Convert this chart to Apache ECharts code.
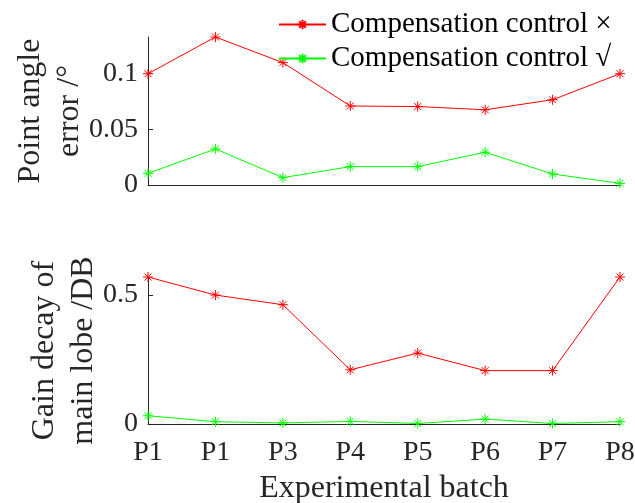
<!DOCTYPE html>
<html>
<head>
    <meta charset="utf-8">
    <title>Compensation control</title>
    <script src="https://cdn.jsdelivr.net/npm/echarts@6/dist/echarts.min.js"></script>
	<style>
		html, body{ margin:0; padding:0; background:#fff; }
		#main{
			height:503px;
			width:635px;
		}
	</style>
</head>
<body>
    <div id="main"></div>
    <script type="text/javascript">
        // data
        var batches = ['P1', 'P1', 'P3', 'P4', 'P5', 'P6', 'P7', 'P8'];
        var angleOff = [0.100, 0.133, 0.110, 0.071, 0.0705, 0.0676, 0.0766, 0.100];
        var angleOn = [0.0105, 0.0324, 0.0066, 0.0165, 0.0165, 0.0295, 0.0099, 0.0015];
        var gainOff = [0.570, 0.500, 0.4625, 0.210, 0.275, 0.207, 0.207, 0.570];
        var gainOn = [0.032, 0.009, 0.004, 0.010, 0.002, 0.019, 0.002, 0.009];
        var angleTicks = [0, 0.05, 0.1];
        var gainTicks = [0, 0.5];

        var nameOff = 'Compensation control ×';
        var nameOn = 'Compensation control √';

        var font = '"Times New Roman", "Liberation Serif", serif';
        var star = 'path://M0,-10L0,10M-10,0L10,0M-7,-7L7,7M-7,7L7,-7';
        var dark = '#262626';

        var myChart = echarts.init(document.getElementById('main'));

        function yAxis(idx, ticks, maxVal, name, gap) {
            return {
                type: 'value',
                gridIndex: idx,
                min: 0,
                max: maxVal,
                name: name,
                nameLocation: 'middle',
                nameRotate: 90,
                nameGap: gap,
                nameMoveOverlap: false,
                nameTextStyle: { fontFamily: font, fontSize: 32, color: dark, lineHeight: 39 },
                axisLine: { show: true, lineStyle: { color: dark, width: 1 } },
                axisTick: { show: true, inside: true, length: 5, customValues: ticks, lineStyle: { color: dark } },
                axisLabel: { customValues: ticks, fontFamily: font, fontSize: 28, color: dark, margin: 10 },
                splitLine: { show: false }
            };
        }

        function series(name, data, idx, color) {
            return {
                name: name,
                type: 'line',
                xAxisIndex: idx,
                yAxisIndex: idx,
                data: data,
                symbol: star,
                symbolSize: 10,
                lineStyle: { color: color, width: 1 },
                itemStyle: { color: color, borderColor: color, borderWidth: 1 },
                animation: false
            };
        }

        myChart.setOption({
            animation: false,
            legend: {
                orient: 'vertical',
                left: 278,
                top: 10,
                padding: 0,
                itemWidth: 47,
                itemHeight: 12,
                itemGap: 5,
                data: [nameOff, nameOn],
                textStyle: { fontFamily: font, fontSize: 29, color: '#000' }
            },
            grid: [
                { left: 148, right: 15, top: 37, height: 148, outerBoundsMode: 'none' },
                { left: 148, right: 15, top: 277, height: 147, outerBoundsMode: 'none' }
            ],
            xAxis: [
                {
                    type: 'category',
                    gridIndex: 0,
                    boundaryGap: false,
                    data: batches,
                    axisLine: { lineStyle: { color: dark, width: 1 } },
                    axisTick: { show: false },
                    axisLabel: { show: false }
                },
                {
                    type: 'category',
                    gridIndex: 1,
                    boundaryGap: false,
                    data: batches,
                    name: 'Experimental batch',
                    nameLocation: 'middle',
                    nameGap: 49,
                    nameMoveOverlap: false,
                    nameTextStyle: { fontFamily: font, fontSize: 32, color: dark },
                    axisLine: { lineStyle: { color: dark, width: 1 } },
                    axisTick: { show: false },
                    axisLabel: { fontFamily: font, fontSize: 28, color: dark, margin: 15, interval: 0 }
                }
            ],
            yAxis: [
                yAxis(0, angleTicks, Math.max.apply(null, angleOff), 'Point angle\nerror /°', 59),
                yAxis(1, gainTicks, Math.max.apply(null, gainOff), 'Gain decay of\nmain lobe /DB', 45)
            ],
            series: [
                series(nameOff, angleOff, 0, '#ff0000'),
                series(nameOn, angleOn, 0, '#00ff00'),
                series(nameOff, gainOff, 1, '#ff0000'),
                series(nameOn, gainOn, 1, '#00ff00')
            ]
        });
    </script>
</body>
</html>
